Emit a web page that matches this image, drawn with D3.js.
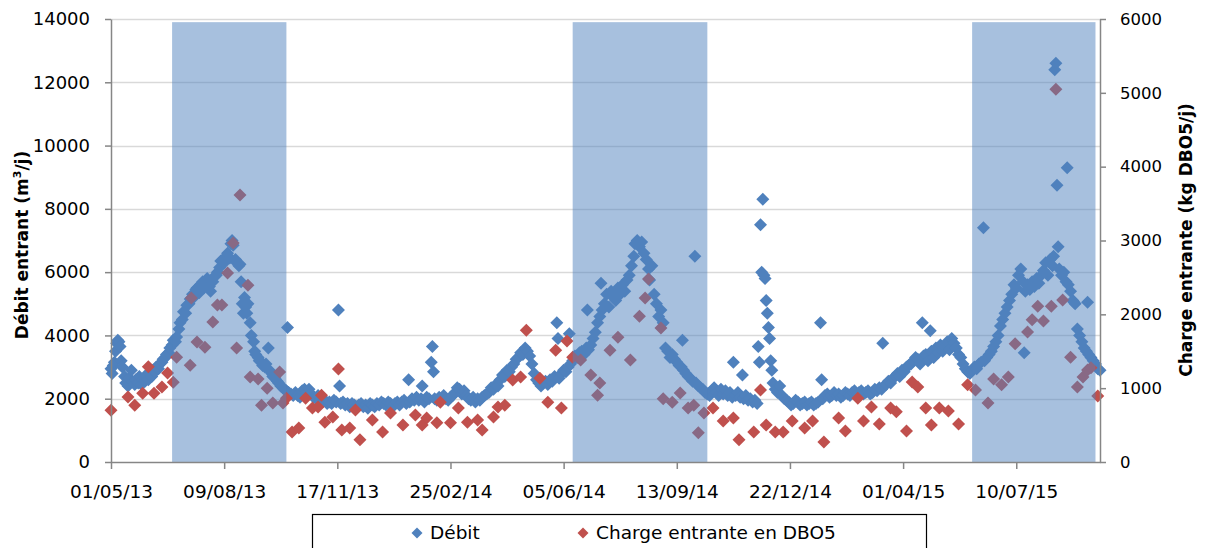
<!DOCTYPE html>
<html>
<head>
<meta charset="utf-8">
<script src="https://cdn.jsdelivr.net/npm/d3@7"></script>
<style>
  html, body { margin: 0; padding: 0; background: #fff; }
  svg { display: block; }
  text { font-family: "DejaVu Sans", sans-serif; fill: #000; }
</style>
</head>
<body>
<svg id="chart" width="1205" height="548"></svg>
<script>
// Axis tick labels (dates every 100 days) and value ticks
const dateTicks = ["01/05/13", "09/08/13", "17/11/13", "25/02/14", "05/06/14", "13/09/14", "22/12/14", "01/04/15", "10/07/15"];
const dateStart = "01/05/13";
const dateEnd = "22/09/15";
const leftTicks = [0, 2000, 4000, 6000, 8000, 10000, 12000, 14000];
const rightTicks = [0, 1000, 2000, 3000, 4000, 5000, 6000];

// Summer periods (shaded)
const periodStart = ["24/06/13", "13/06/14", "01/06/15"];
const periodEnd = ["03/10/13", "10/10/14", "18/09/15"];
const periodTop = 13900;

// Débit entrant (m3/j): [jour depuis le 01/05/13, valeur]
const debit = [
  [0,2950],[1,2800],[2,3050],[3,3150],[4,3500],[5,3750],[6,3850],[7,3800],[8,3650],[9,3200],[10,3000],[12,2700],[13,2500],[15,2400],[16,2650],[18,2900],[19,2550],[21,2450],[22,2600],[24,2500],[25,2700],[27,2450],[28,2600],[30,2550],[31,2750],[33,2600],[34,2800],[36,2700],[37,2900],[39,2850],[40,3000],[42,2950],[43,3100],[45,3150],[46,3250],[48,3300],[49,3400],[51,3450],[52,3600],
  [54,3700],[55,3850],[57,3800],[58,3950],[60,4200],[61,4400],[63,4500],[64,4750],[66,4700],[67,4950],[69,5000],[70,5150],[72,5300],[73,5200],[75,5450],[76,5500],[78,5350],[79,5600],[81,5700],[82,5500],[84,5650],[85,5800],[87,5550],[88,5400],[90,5700],[91,5850],[93,5900],[94,6000],[96,6150],[97,6350],[99,6400],[100,6300],[102,6500],[103,6600],[105,6450],[106,6900],[107,7000],[108,6850],[110,6400],[111,6300],[113,6200],[114,6250],[115,5700],[116,5000],[117,4700],[118,5200],[119,4900],[120,4700],[121,5000],[123,4400],[124,4000],[126,3800],[127,3500],[128,3400],[130,3300],[131,3200],[133,3150],[134,3050],[136,3000],[137,3100],[139,3600],[140,2900],[142,2800],[143,2700],[145,2650],[147,2550],[148,2500],[150,2400],[152,2350],[153,2300],[155,2250],[156,4250],[157,2200],[159,2150],[161,2100],[163,2200],[165,2100],[167,2050],[169,2250],[171,2300],[173,2200],[175,2300],[177,2150],[179,2050],[181,2000],[183,2100],[185,1950],[187,1900],[189,1950],[191,1850],[193,1900],[195,1850],[197,1950],[199,1900],[201,4800],[202,2400],[203,1850],[205,1900],[207,1800],[209,1850],[211,1750],[213,1850],[215,1800],[217,1750],[219,1800],[221,1850],[223,1750],[225,1800],[227,1700],[229,1850],[231,1800],[233,1750],[235,1850],[237,1800],[239,1900],[241,1850],[243,1800],[245,1900],[247,1850],[249,1750],[251,1850],[253,1900],[255,1800],[257,1900],[259,1950],[261,1850],[263,2600],[264,1900],[266,2000],[268,1950],[270,2050],[272,1950],[274,2000],[275,2400],[277,1900],[279,2050],[281,2000],[283,3150],[284,3650],[285,2850],[286,2000],[288,1950],[290,2050],[292,2000],[294,2100],[296,2000],[298,1950],[300,2050],[302,2100],[304,2200],[306,2350],[308,2300],[310,2150],[312,2250],[314,2100],[316,2000],[318,1950],[320,2050],[322,1900],[324,2000],[326,1950],[328,2050],[330,2100],[332,2150],[334,2200],[336,2350],[338,2300],[340,2450],[342,2400],[344,2600],[346,2750],[348,2700],[350,2900],[352,2850],[354,3000],[356,3100],[358,3250],[360,3300],[362,3450],[364,3400],[366,3600],[368,3500],[370,3350],[372,3100],[374,2800],[376,2600],[378,2500],[380,2400],[382,2500],[384,2550],[386,2450],[388,2600],[390,2550],[392,2700],[394,4400],[395,3900],[396,2650],[398,2800],[400,2900],[402,2850],[404,3000],[405,4050],[406,3100],[408,3200],[410,3350],[412,3300],[414,3450],[416,3500],[418,3400],[420,3600],[421,4800],[422,3550],[424,3700],[426,3900],[428,4100],[430,4400],[432,4600],[433,5650],[434,4800],[436,5000],[438,5300],[440,4900],[442,5400],[444,5200],[446,5100],[448,5500],[450,5300],[452,5600],[454,5400],[456,5750],[458,5900],[460,6200],[462,6500],[463,6900],[465,7000],[467,6800],[469,6950],[471,6600],[473,6400],[475,6100],[476,5750],[478,6200],[480,5300],[482,5000],[484,4600],[486,4800],[488,4400],[490,3600],[492,3500],[494,3300],[496,3400],[498,3250],[500,3150],[502,3050],[504,3000],[505,3850],[506,2900],[508,2800],[510,2700],[512,2650],[514,2550],[516,6500],[517,2500],[519,2400],[521,2350],[523,2300],[525,2200],[527,2150],[529,2100],[531,2250],[533,2350],[535,2200],[537,2100],[539,2300],[541,2150],[543,2250],[545,2100],[547,2200],[549,2050],[550,3150],[552,2100],[554,2200],[556,2050],[558,2750],[559,2000],[561,2100],[563,1950],[565,2000],[567,1900],[569,1950],[571,1850],[572,3650],[573,3150],[574,7500],[575,6000],[576,8300],[577,5900],[578,5800],[579,5100],[580,4700],[581,4250],[582,3900],[583,3200],[584,2900],[585,2500],[587,2300],[589,2200],[591,2400],[593,2100],[595,2000],[597,1950],[599,1900],[601,1800],[603,1850],[605,1950],[607,1900],[609,1800],[611,1850],[613,1900],[615,1800],[617,1850],[619,1900],[621,1800],[623,1850],[625,1900],[627,4400],[628,2600],[629,2000],[631,2100],[633,2150],[635,2050],[637,2100],[639,2200],[641,2100],[643,2150],[645,2050],[647,2100],[649,2200],[651,2150],[653,2100],[655,2200],[657,2250],[659,2150],[661,2200],[663,2250],[665,2150],[667,2200],[669,2250],[671,2150],[673,2200],[675,2300],[677,2250],[679,2350],[681,2300],[682,3750],[683,2400],[685,2450],[687,2550],[689,2500],[691,2650],[693,2700],[695,2800],[697,2700],[699,2900],[701,2850],[703,3000],[705,3050],[707,3100],[709,3200],[711,3300],[713,3250],[715,3100],[717,4400],[718,3350],[720,3400],[722,3200],[724,4150],[725,3500],[727,3300],[729,3600],[731,3450],[733,3700],[735,3500],[737,3650],[739,3800],[741,3550],[743,3900],[745,3750],[747,3600],[749,3400],[751,3300],[753,3100],[755,2950],[757,2850],[759,2800],[761,2900],[763,3000],[765,2950],[767,3100],[769,3150],[771,7400],[772,3200],[774,3300],[776,3400],[778,3500],[780,3650],[782,3800],[784,4000],[786,4300],[788,4500],[790,4700],[792,4900],[794,5100],[796,5300],[798,5600],[800,5500],[802,5900],[804,6100],[806,5700],[807,3450],[808,5400],[810,5600],[812,5450],[814,5700],[816,5550],[818,5800],[820,5650],[822,5900],[824,6050],[826,6300],[828,5900],[830,6400],[832,6200],[833,6500],[834,12400],[835,12600],[836,8750],[837,6800],[838,6100],[840,5900],[842,6000],[844,5700],[845,9300],[846,5600],[848,5400],[850,5100],[851,5050],[852,5000],[854,4200],[856,4000],[858,3800],[860,3600],[862,3500],[863,5050],[864,3400],[866,3300],[868,3200],[870,3100],[872,2950],[874,2900]
];

// Charge entrante en DBO5 (kg/j): [jour depuis le 01/05/13, valeur]
const charge = [
  [0,700],[15,880],[21,770],[28,930],[33,1290],[38,930],[45,1015],[50,1205],[55,1080],[58,1420],[70,1310],[71,2220],[76,1625],[83,1555],[90,1895],[94,2125],[98,2125],[103,2560],[108,2965],[111,1545],[114,3615],[121,2395],[123,1150],[130,1125],[133,770],[138,1000],[143,800],[149,1220],[152,800],[155,865],[160,405],[166,460],[172,865],[178,730],[183,745],[186,905],[189,540],[196,610],[201,1260],[204,435],[211,460],[216,705],[220,300],[231,570],[240,405],[247,665],[258,500],[269,635],[275,500],[279,595],[288,530],[291,810],[300,530],[307,730],[315,540],[324,570],[328,435],[338,610],[342,745],[348,770],[355,1110],[362,1150],[367,1785],[379,1135],[386,810],[393,1515],[398,730],[403,1640],[408,1420],[415,1380],[424,1180],[430,905],[432,1070],[441,1515],[448,1690],[459,1380],[467,1975],[472,2220],[475,2480],[486,1815],[488,855],[496,810],[503,935],[510,730],[515,770],[519,395],[524,665],[532,730],[541,555],[550,595],[555,300],[568,405],[574,975],[579,500],[587,405],[594,405],[602,555],[613,460],[620,555],[630,270],[643,595],[649,420],[660,865],[665,555],[672,745],[679,515],[689,730],[694,680],[703,420],[708,1085],[713,1015],[720,730],[725,500],[732,730],[740,690],[749,515],[757,1045],[764,975],[775,800],[780,1125],[787,1045],[793,1150],[799,1600],[810,1760],[814,1925],[819,2110],[824,1910],[831,2110],[835,5050],[841,2195],[848,1420],[854,1015],[859,1150],[863,1245],[866,1275],[872,895]
];

const colDebit = "#4f81bd";
const colCharge = "#c0504d";
const axisCol = "#868686";
const gridCol = "#d9d9d9";
const markerR = 6.5;

const parse = d3.timeParse("%d/%m/%y");
const t0 = parse(dateStart);
const dayToDate = d => d3.timeDay.offset(t0, d);

const plot = { left: 111, right: 1100, top: 19, bottom: 462 };

const x = d3.scaleTime().domain([t0, parse(dateEnd)]).range([plot.left, plot.right]);
const yL = d3.scaleLinear().domain([0, 14000]).range([plot.bottom, plot.top]);
const yR = d3.scaleLinear().domain([0, 6000]).range([plot.bottom, plot.top]);

const svg = d3.select("#chart");
svg.append("rect").attr("width", 1205).attr("height", 548).attr("fill", "#fff");

// Horizontal gridlines
svg.append("g")
  .selectAll("line").data(leftTicks.filter(v => v > 0)).join("line")
  .attr("x1", plot.left).attr("x2", plot.right)
  .attr("y1", d => Math.round(yL(d)) + 0.5).attr("y2", d => Math.round(yL(d)) + 0.5)
  .attr("stroke", gridCol).attr("stroke-width", 1.3);

const diamond = r => `M0,${-r}L${r},0L0,${r}L${-r},0Z`;

// Débit markers
svg.append("g")
  .selectAll("path").data(debit).join("path")
  .attr("d", diamond(markerR))
  .attr("transform", d => `translate(${x(dayToDate(d[0]))},${yL(d[1])})`)
  .attr("fill", colDebit);

// Charge markers (secondary axis)
svg.append("g")
  .selectAll("path").data(charge).join("path")
  .attr("d", diamond(markerR))
  .attr("transform", d => `translate(${x(dayToDate(d[0]))},${yR(d[1])})`)
  .attr("fill", colCharge);

// Shaded summer periods
const periods = periodStart.map((s, i) => ({ s: parse(s), e: parse(periodEnd[i]) }));
svg.append("g")
  .selectAll("rect").data(periods).join("rect")
  .attr("x", d => x(d.s)).attr("width", d => x(d.e) - x(d.s))
  .attr("y", yL(periodTop)).attr("height", plot.bottom - yL(periodTop))
  .attr("fill", colDebit).attr("fill-opacity", 0.5);

// Axes
const styleAxis = g => {
  g.select(".domain").attr("stroke", axisCol).attr("stroke-width", 1.5);
  g.selectAll(".tick line").attr("stroke", axisCol).attr("stroke-width", 1.5);
  g.selectAll(".tick text").style("font-family", "DejaVu Sans, sans-serif").attr("fill", "#000");
};

const gx = svg.append("g").attr("transform", `translate(0,${plot.bottom})`)
  .call(d3.axisBottom(x).tickValues(dateTicks.map(parse)).tickFormat(d3.timeFormat("%d/%m/%y")).tickSizeInner(7).tickSizeOuter(0).tickPadding(16));
styleAxis(gx);
gx.selectAll(".tick text").style("font-size", "18.5px");

const gl = svg.append("g").attr("transform", `translate(${plot.left},0)`)
  .call(d3.axisLeft(yL).tickValues(leftTicks).tickFormat(d3.format("d")).tickSizeInner(6).tickSizeOuter(0).tickPadding(15));
styleAxis(gl);
gl.selectAll(".tick text").style("font-size", "18px");

const gr = svg.append("g").attr("transform", `translate(${plot.right},0)`)
  .call(d3.axisRight(yR).tickValues(rightTicks).tickFormat(d3.format("d")).tickSizeInner(6).tickSizeOuter(0).tickPadding(14));
styleAxis(gr);
gr.selectAll(".tick text").style("font-size", "16.5px");

// Axis titles
const tl = svg.append("text")
  .attr("transform", "translate(28,245) rotate(-90)")
  .attr("text-anchor", "middle")
  .style("font-size", "17px").style("font-weight", "bold");
tl.append("tspan").text("Débit entrant (m");
tl.append("tspan").attr("dy", -7).style("font-size", "11px").text("3");
tl.append("tspan").attr("dy", 7).text("/j)");

svg.append("text")
  .attr("transform", "translate(1192,240) rotate(-90)")
  .attr("text-anchor", "middle")
  .style("font-size", "17px").style("font-weight", "bold")
  .text("Charge entrante (kg DBO5/j)");

// Legend
const lg = svg.append("g");
lg.append("rect").attr("x", 312.5).attr("y", 514.5).attr("width", 614).attr("height", 60)
  .attr("fill", "#fff").attr("stroke", "#000").attr("stroke-width", 1.2);
const items = [
  { label: "Débit", color: colDebit, x: 417 },
  { label: "Charge entrante en DBO5", color: colCharge, x: 583 }
];
items.forEach(it => {
  lg.append("path").attr("d", diamond(5.5)).attr("transform", `translate(${it.x},533)`).attr("fill", it.color);
  lg.append("text").attr("x", it.x + 13).attr("y", 533).attr("dy", "0.35em")
    .style("font-size", "18.5px").text(it.label);
});
</script>
</body>
</html>
